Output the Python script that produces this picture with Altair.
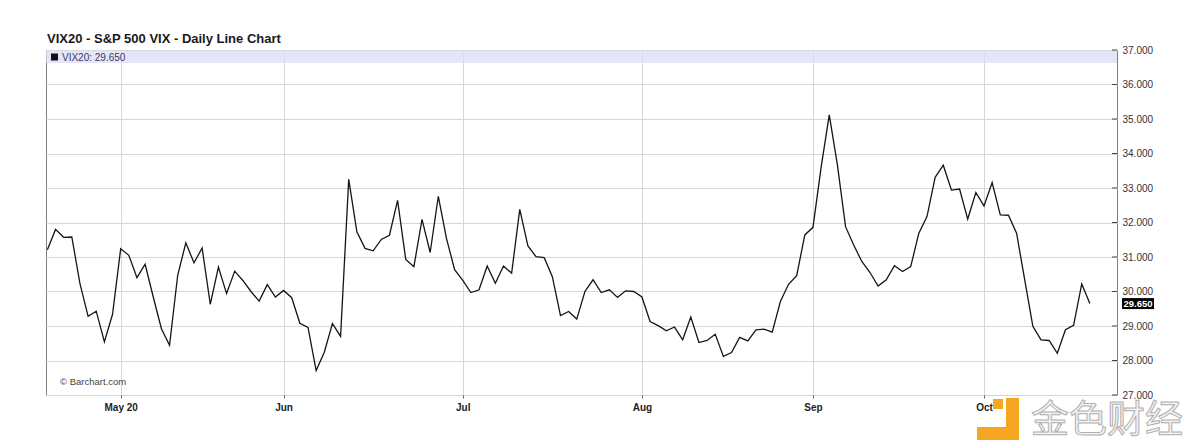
import altair as alt
import pandas as pd

# VIX Oct-2020 futures (VIX20), daily closes
values = [31.21, 31.80, 31.57, 31.58, 30.23, 29.28, 29.43, 28.54, 29.34, 31.24,
          31.05, 30.40, 30.79, 29.84, 28.92, 28.44, 30.47, 31.41, 30.83, 31.26,
          29.63, 30.71, 29.94, 30.59, 30.32, 30.00, 29.72, 30.20, 29.84, 30.03,
          29.82, 29.08, 28.96, 27.71, 28.24, 29.07, 28.70, 33.25, 31.73, 31.25,
          31.18, 31.51, 31.63, 32.64, 30.93, 30.72, 32.09, 31.13, 32.76, 31.54,
          30.63, 30.32, 29.97, 30.05, 30.74, 30.24, 30.74, 30.53, 32.38, 31.32,
          31.01, 30.98, 30.43, 29.30, 29.42, 29.20, 30.00, 30.34, 29.97, 30.05,
          29.83, 30.02, 30.00, 29.84, 29.13, 29.01, 28.86, 28.97, 28.60, 29.26,
          28.52, 28.58, 28.76, 28.12, 28.23, 28.67, 28.57, 28.89, 28.91, 28.82,
          29.71, 30.21, 30.46, 31.64, 31.86, 33.60, 35.12, 33.67, 31.88, 31.35,
          30.87, 30.55, 30.16, 30.34, 30.75, 30.58, 30.72, 31.69, 32.17, 33.31,
          33.66, 32.94, 32.97, 32.10, 32.87, 32.48, 33.16, 32.22, 32.21, 31.69,
          30.34, 28.99, 28.60, 28.58, 28.21, 28.89, 29.02, 30.22, 29.65]

holidays = ["2020-05-25", "2020-07-03", "2020-09-07"]
dates = [d for d in pd.bdate_range("2020-04-20", "2020-10-20")
         if d.strftime("%Y-%m-%d") not in holidays]
assert len(dates) == len(values)

month_labels = ["May 20", "Jun", "Jul", "Aug", "Sep", "Oct"]
month_numbers = [5, 6, 7, 8, 9, 10]
y_ticks = [27, 28, 29, 30, 31, 32, 33, 34, 35, 36, 37]

title_text = "VIX20 - S&P 500 VIX - Daily Line Chart"
legend_text = f"VIX20: {values[-1]:.3f}"
credit_text = "\u00a9 Barchart.com"
watermark_text = "金色财经"

df = pd.DataFrame({"i": list(range(len(values))), "v": values,
                   "date": [d.strftime("%Y-%m-%d") for d in dates]})
tick_idx = [next(i for i, d in enumerate(dates) if d.month == m) for m in month_numbers]
expr = "''"
for idx, lab in zip(tick_idx, month_labels):
    expr = f"datum.value == {idx} ? '{lab}' : ({expr})"

W, H = 1071, 345
FONT = "Liberation Sans"

xscale = alt.Scale(domain=[-0.17, 131.33], nice=False, zero=False)
yscale = alt.Scale(domain=[27, 37], nice=False, zero=False)
yaxis = alt.Axis(orient="right", values=y_ticks, format=".3f", title=None,
                 grid=True, gridColor="#d6d6d6", ticks=False,
                 domain=False, labelFont=FONT, labelFontSize=10,
                 labelColor="#333", labelPadding=5)

base = alt.Chart(df)

band = alt.Chart(pd.DataFrame({"t": [legend_text]})).mark_rect(
    color="#dcdcf6", opacity=0.75).encode(
    x=alt.value(0), x2=alt.value(W), y=alt.value(0.5), y2=alt.value(13))

line = base.mark_line(color="#151515", strokeWidth=1.3).encode(
    x=alt.X("i:Q", scale=xscale, title=None,
            axis=alt.Axis(values=tick_idx, labelExpr=expr, grid=True,
                          gridColor="#d6d6d6", tickSize=3, tickColor="#666",
                          domain=False, labelFont=FONT, labelFontSize=10,
                          labelFontWeight="bold", labelColor="#222",
                          labelPadding=4)),
    y=alt.Y("v:Q", scale=yscale, title=None, axis=yaxis),
)

ticks_df = pd.DataFrame({"v": y_ticks})
inner_ticks = alt.Chart(ticks_df).mark_rule(color="#444", strokeWidth=1).encode(
    y=alt.Y("v:Q", scale=yscale, title=None, axis=yaxis),
    x=alt.value(W - 5), x2=alt.value(W))

leg_square = alt.Chart(pd.DataFrame({"t": [legend_text]})).mark_rect(color="#111").encode(
    x=alt.value(5), x2=alt.value(12), y=alt.value(3.5), y2=alt.value(10.5))
leg_text = alt.Chart(pd.DataFrame({"t": [legend_text]})).mark_text(
    align="left", baseline="alphabetic", font=FONT, fontSize=10, color="#3c3c66").encode(
    x=alt.value(16), y=alt.value(11), text="t:N")

title = alt.Chart(pd.DataFrame({"t": [title_text]})).mark_text(
    align="left", baseline="alphabetic", font=FONT, fontSize=13,
    fontWeight="bold", color="#1a1a1a").encode(
    x=alt.value(1), y=alt.value(-7), text="t:N")

credit = alt.Chart(pd.DataFrame({"t": [credit_text]})).mark_text(
    align="left", baseline="alphabetic", font=FONT, fontSize=9.5, color="#444").encode(
    x=alt.value(14), y=alt.value(335), text="t:N")

last = df.tail(1)
last_box = alt.Chart(last).mark_point(
    shape="M-1.6,-0.55H1.6V0.55H-1.6Z", filled=True, color="#000", opacity=1,
    size=400).encode(
    x=alt.value(W + 21), y=alt.Y("v:Q", scale=yscale, title=None, axis=yaxis))
last_text = alt.Chart(last).mark_text(
    font=FONT, fontSize=9.5, fontWeight="bold", color="#fff").encode(
    x=alt.value(W + 21), y=alt.Y("v:Q", scale=yscale, title=None, axis=yaxis),
    text=alt.Text("v:Q", format=".3f"))

logo_v = alt.Chart(pd.DataFrame({"t": [watermark_text]})).mark_rect(color="#f5a623").encode(
    x=alt.value(960), x2=alt.value(973), y=alt.value(348), y2=alt.value(390))
logo_h = alt.Chart(pd.DataFrame({"t": [watermark_text]})).mark_rect(color="#f5a623").encode(
    x=alt.value(931), x2=alt.value(973), y=alt.value(377), y2=alt.value(390))
logo_s = alt.Chart(pd.DataFrame({"t": [watermark_text]})).mark_rect(color="#f5a623").encode(
    x=alt.value(947), x2=alt.value(957), y=alt.value(349), y2=alt.value(359))
watermark = alt.Chart(pd.DataFrame({"t": [watermark_text]})).mark_text(
    align="left", baseline="alphabetic", font="Noto Sans CJK SC", fontSize=38,
    color="#f3f3f3", stroke="#b0b0b0", strokeWidth=1).encode(
    x=alt.value(985), y=alt.value(382), text="t:N")

chart = alt.layer(band, line, inner_ticks, leg_square, leg_text, title, credit,
                  last_box, last_text, logo_h, logo_v, logo_s, watermark).properties(
    width=W, height=H,
    autosize=alt.AutoSizeParams(type="none"),
    padding={"left": 38, "top": 42, "right": 75, "bottom": 45},
    background="white",
).configure_view(stroke="#808080", strokeWidth=1)

chart.save("out.html", embed_options={"renderer": "svg", "actions": False})
